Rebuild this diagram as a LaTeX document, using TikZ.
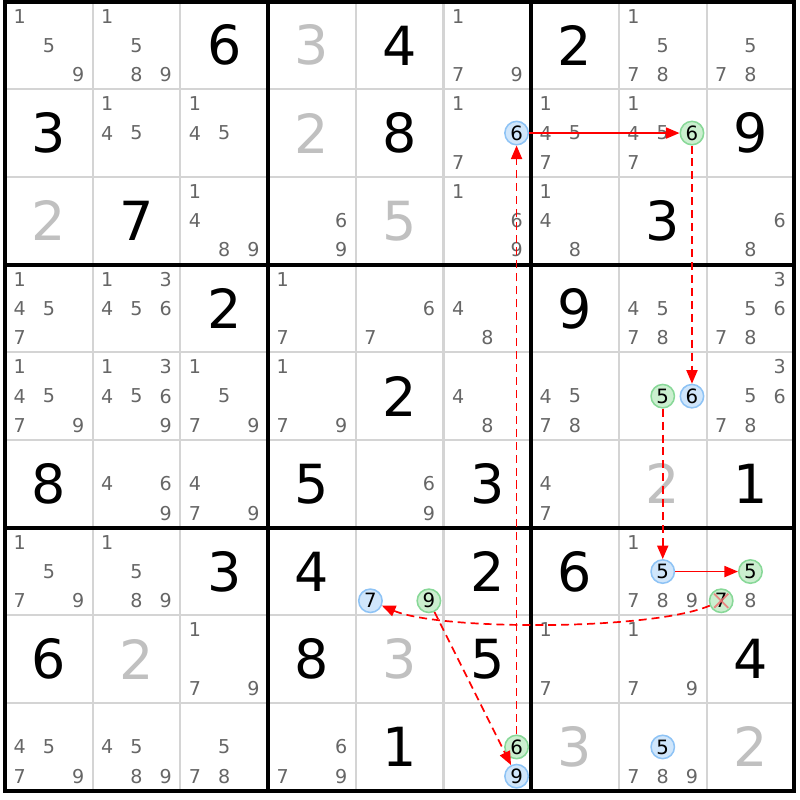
\documentclass[tikz,border=0pt]{standalone}
\usepackage{fontspec}
\setmainfont{DejaVu Sans}
\usetikzlibrary{arrows.meta}
\definecolor{candgray}{HTML}{666666}
\definecolor{solvedgray}{HTML}{C0C0C0}
\definecolor{gridgray}{HTML}{D4D4D4}
\definecolor{blueline}{HTML}{8EC3F5}
\definecolor{bluefill}{HTML}{D0E6FB}
\definecolor{greenline}{HTML}{88D898}
\definecolor{greenfill}{HTML}{CBEFCF}
\definecolor{xred}{HTML}{F07070}
\begin{document}
\begin{tikzpicture}[
    cand/.style={inner sep=0pt, text=candgray, font=\fontsize{6.2}{7}\selectfont},
    given/.style={inner sep=0pt, font=\fontsize{17.5}{18}\selectfont},
    solved/.style={given, text=solvedgray},
    hlblue/.style={circle, inner sep=0pt, minimum size=7.6pt, draw=blueline, fill=bluefill, line width=0.5pt, font=\fontsize{6.4}{7}\selectfont},
    hlgreen/.style={hlblue, draw=greenline, fill=greenfill},
    link/.style={red, line width=0.55pt, -{Triangle[length=4.4pt,width=3.6pt]}},
    weak/.style={link, dash pattern=on 2.6pt off 1.6pt}
  ]
        \useasboundingbox (-0.057,0.017) rectangle (9.065,-9.105);

        \foreach \i in {1,...,8} {
            \draw[gridgray, line width=0.65pt] (\i,0) -- (\i,-9);
            \draw[gridgray, line width=0.65pt] (0,-\i) -- (9,-\i);
        }
        \foreach \i in {0,3,6,9} {
            \draw[line width=1.3pt, line cap=rect] (\i,0) -- (\i,-9);
            \draw[line width=1.3pt, line cap=rect] (0,-\i) -- (9,-\i);
        }

        \foreach \r/\c/\d in {1/3/6, 1/5/4, 1/7/2, 2/1/3, 2/5/8, 2/9/9, 3/2/7, 3/8/3,
                              4/3/2, 4/7/9, 5/5/2, 6/1/8, 6/4/5, 6/6/3, 6/9/1,
                              7/3/3, 7/4/4, 7/6/2, 7/7/6, 8/1/6, 8/4/8, 8/6/5, 8/9/4, 9/5/1} {
            \node[given] (g\r\c) at ({\c-0.5},{0.5-\r}) {\d};
        }
        \foreach \r/\c/\d in {1/4/3, 2/4/2, 3/1/2, 3/5/5, 6/8/2, 8/2/2, 8/5/3, 9/7/3, 9/9/2} {
            \node[solved] (s\r\c) at ({\c-0.5},{0.5-\r}) {\d};
        }

        \foreach \r/\c/\ds in {1/1/{1,5,9}, 1/2/{1,5,8,9}, 1/6/{1,7,9}, 1/8/{1,5,7,8}, 1/9/{5,7,8},
                               2/2/{1,4,5}, 2/3/{1,4,5}, 2/6/{1,7}, 2/7/{1,4,5,7}, 2/8/{1,4,5,7},
                               3/3/{1,4,8,9}, 3/4/{6,9}, 3/6/{1,6,9}, 3/7/{1,4,8}, 3/9/{6,8},
                               4/1/{1,4,5,7}, 4/2/{1,3,4,5,6}, 4/4/{1,7}, 4/5/{6,7}, 4/6/{4,8}, 4/8/{4,5,7,8}, 4/9/{3,5,6,7,8},
                               5/1/{1,4,5,7,9}, 5/2/{1,3,4,5,6,9}, 5/3/{1,5,7,9}, 5/4/{1,7,9}, 5/6/{4,8}, 5/7/{4,5,7,8}, 5/9/{3,5,6,7,8},
                               6/2/{4,6,9}, 6/3/{4,7,9}, 6/5/{6,9}, 6/7/{4,7},
                               7/1/{1,5,7,9}, 7/2/{1,5,8,9}, 7/8/{1,7,8,9}, 7/9/{8},
                               8/3/{1,7,9}, 8/7/{1,7}, 8/8/{1,7,9},
                               9/1/{4,5,7,9}, 9/2/{4,5,8,9}, 9/3/{5,7,8}, 9/4/{6,7,9}, 9/8/{7,8,9}} {
            \foreach \d in \ds {
                \pgfmathsetmacro{\cx}{\c-1+(2*mod(\d-1,3)+1)/6}
                \pgfmathsetmacro{\cy}{1-\r-(2*floor((\d-1)/3)+1)/6}
                \node[cand] (k\r\c\d) at (\cx,\cy) {\d};
            }
        }

        \node[hlblue] (b266) at (5.8333,-1.5) {6};
        \node[hlgreen] (e286) at (7.8333,-1.5) {6};
        \node[hlgreen] (e585) at (7.5,-4.5) {5};
        \node[hlblue] (b586) at (7.8333,-4.5) {6};
        \node[hlblue] (b757) at (4.1667,-6.8333) {7};
        \node[hlgreen] (e759) at (4.8333,-6.8333) {9};
        \node[hlblue] (b785) at (7.5,-6.5) {5};
        \node[hlgreen] (e795) at (8.5,-6.5) {5};
        \node[hlgreen] (e797) at (8.1667,-6.8333) {7};
        \node[hlgreen] (e966) at (5.8333,-8.5) {6};
        \node[hlblue] (b969) at (5.8333,-8.8333) {9};
        \node[hlblue] (b985) at (7.5,-8.5) {5};

        \draw[xred, line width=0.6pt, opacity=0.8, shorten <=0.8pt, shorten >=0.8pt] (e797.45) -- (e797.225);
        \draw[xred, line width=0.6pt, opacity=0.8, shorten <=0.8pt, shorten >=0.8pt] (e797.135) -- (e797.315);

        \draw[link] (b266) -- (e286);
        \draw[weak] (e286) -- (b586);
        \draw[weak] (e585) -- (b785);
        \draw[link] (b785) -- (e795);
        \draw[weak] (e797) to[out=203, in=-23, looseness=0.5] (b757);
        \draw[weak] (e759) -- (b969);
        \draw[weak] (e966) -- (b266);

    \end{tikzpicture}
\end{document}
